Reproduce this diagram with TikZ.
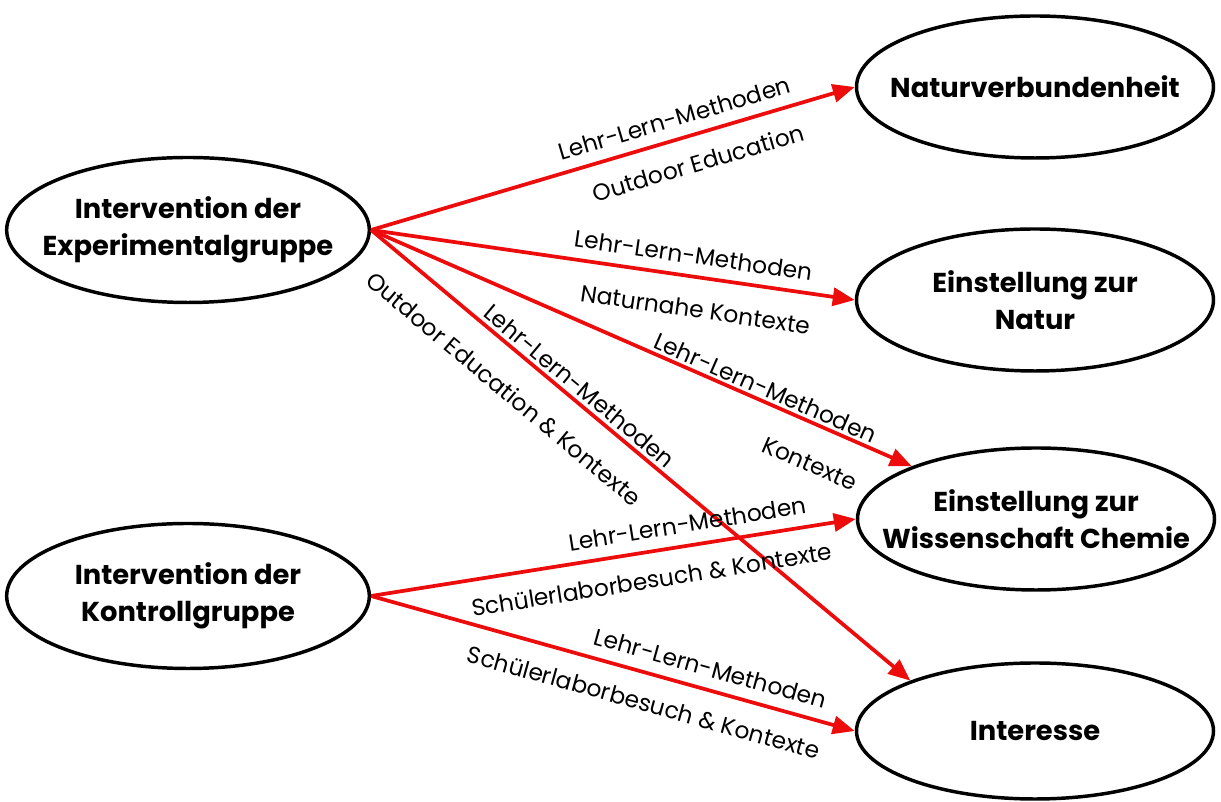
\documentclass[tikz,border=0pt]{standalone}
\usepackage{fontspec}
\setmainfont{Poppins}
\usetikzlibrary{shapes.geometric,arrows.meta}
\definecolor{arrowred}{RGB}{236,12,12}

\begin{document}
\begin{tikzpicture}[x=0.75pt,y=0.75pt,
        construct/.style={ellipse, draw, line width=2.6pt, inner sep=0pt, minimum width=267.75pt, minimum height=106.5pt},
        ctext/.style={align=center, inner sep=0pt, font=\fontsize{20.5}{27.5}\selectfont\bfseries},
        effect/.style={draw=arrowred, line width=2.8pt, -{Triangle[length=16.5pt,width=13.5pt]}},
        lbl/.style={sloped, inner sep=0pt, font=\fontsize{17.5}{20}\selectfont}]
        \useasboundingbox (0,0) rectangle (1221,802);
        % Interventionen
        \draw (188,572) node [construct, minimum width=272pt, minimum height=108.75pt, label={[ctext]center:Intervention der\\Experimentalgruppe}] (exp) {};
        \draw (188,206) node [construct, minimum width=272pt, minimum height=108.75pt, label={[ctext]center:Intervention der\\Kontrollgruppe}] (kon) {};
        % Zielgroessen
        \draw (1035,715) node [construct, label={[ctext]center:Naturverbundenheit}] (nv) {};
        \draw (1035,502) node [construct, label={[ctext]center:Einstellung zur\\Natur}] (ezn) {};
        \draw (1036,283) node [construct, label={[ctext]center:Einstellung zur\\Wissenschaft Chemie}] (ewc) {};
        \draw (1035,71) node [construct, minimum height=102pt, label={[ctext]center:Interesse}] (int) {};
        % Wirkungen Experimentalgruppe
        \draw [effect] (exp.east) -- (nv.west) node [lbl, pos=0.64, above=7.9pt] {Lehr-Lern-Methoden} node [lbl, pos=0.66, below=13.1pt] {Outdoor Education};
        \draw [effect] (exp.east) -- (ezn.west) node [lbl, pos=0.66, above=7.9pt] {Lehr-Lern-Methoden} node [lbl, pos=0.68, below=16.1pt] {Naturnahe Kontexte};
        \draw [effect] (exp.east) -- (ewc.157) node [lbl, pos=0.72, above=1.9pt] {Lehr-Lern-Methoden} node [lbl, pos=0.84, below=21.4pt] {Kontexte};
        \draw [effect] (exp.east) -- (int.158) node [lbl, pos=0.37, above=2.6pt] {Lehr-Lern-Methoden} node [lbl, pos=0.29, below=19.1pt] {Outdoor Education \& Kontexte};
        % Wirkungen Kontrollgruppe
        \draw [effect] (kon.east) -- (ewc.west) node [lbl, pos=0.66, above=8.3pt] {Lehr-Lern-Methoden} node [lbl, pos=0.57, below=13.1pt] {Schülerlaborbesuch \& Kontexte};
        \draw [effect] (kon.east) -- (int.west) node [lbl, pos=0.69, above=8.3pt] {Lehr-Lern-Methoden} node [lbl, pos=0.58, below=13.9pt] {Schülerlaborbesuch \& Kontexte};
    \end{tikzpicture}
\end{document}
